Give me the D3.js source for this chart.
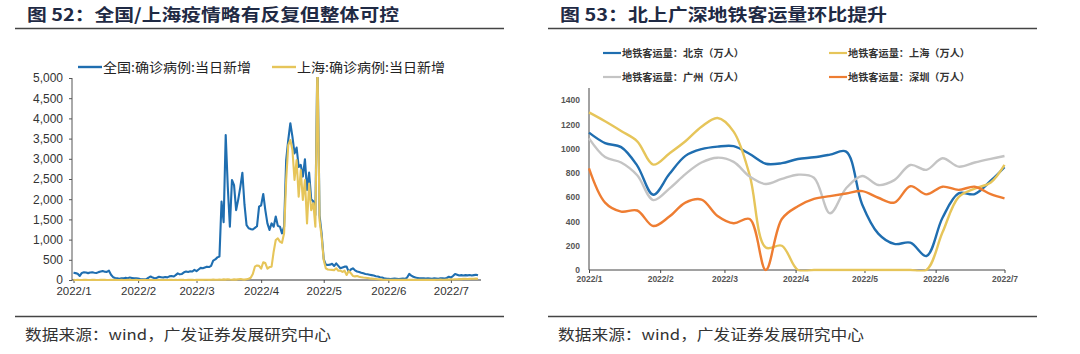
<!DOCTYPE html>
<html>
<head>
<meta charset="utf-8">
<script src="https://cdn.jsdelivr.net/npm/d3@7"></script>
<style>
  body { margin: 0; background: #fff; }
  svg { display: block; font-family: "Liberation Sans", Arial, sans-serif; }
  .cjk { font-family: "Noto Sans CJK SC", "Noto Sans", sans-serif; }
</style>
</head>
<body>
<svg id="chart" width="1080" height="354"></svg>
<script>
// ── Left panel: daily new confirmed cases, starting 2022-01-01 ───────────────
const caseStart = '2022-01-01';
const caseEnd   = '2022-07-14';
const nationalCases = [
  180, 170, 155, 100, 175, 190, 185, 170, 185, 190,
  180, 175, 195, 210, 220, 205, 200, 230, 130, 70,
  50, 40, 30, 45, 40, 55, 45, 60, 50, 40,
  45, 35, 25, 20, 15, 20, 60, 85, 60, 40,
  55, 80, 70, 60, 75, 65, 90, 100, 85, 120,
  165, 140, 150, 190, 210, 200, 215, 210, 250,
  220, 260, 300, 290, 310, 330, 320, 350, 480, 510, 560,
  580, 1940, 1430, 3590, 2300, 1320, 2475, 2350, 1730, 1990,
  2300, 2655, 1870, 1360, 1280, 1260, 1250, 1290, 1330, 1815,
  1850, 2130, 1730, 1400, 1240, 1400, 1320, 1570, 1340, 1320,
  1155, 1320, 2970, 3470, 3880, 3550, 3135, 3280, 2800, 2850,
  2560, 2990, 2230, 2660, 2000, 1950, 1610, 5600, 1600, 1150,
  520, 380, 370, 380, 400, 345, 410, 350, 290, 310,
  330, 330, 200, 260, 290, 240, 210, 200, 180, 165,
  150, 140, 130, 120, 110, 95, 85, 70, 60, 45,
  35, 30, 25, 30, 35, 30, 25, 30, 35, 30,
  60, 150, 110, 80, 60, 50, 40, 45, 40, 35,
  40, 35, 30, 40, 35, 30, 45, 40, 35, 50,
  80, 60, 100, 150, 130, 110, 120, 110, 120, 115,
  125, 110, 120, 130, 115
];
const shanghaiCases = [
  2, 0, 3, 1, 0, 2, 4, 1, 0, 3,
  2, 0, 1, 3, 5, 2, 0, 1, 2, 0,
  3, 1, 0, 2, 1, 0, 4, 2, 1, 0,
  2, 0, 1, 0, 3, 1, 0, 2, 1, 0,
  1, 2, 0, 3, 1, 0, 2, 4, 1, 2,
  0, 3, 5, 2, 1, 4, 3, 2, 1,
  2, 3, 5, 3, 8, 5, 3, 6, 10, 5, 8,
  12, 8, 15, 10, 20, 12, 8, 15, 10, 20,
  25, 15, 10, 20, 30, 55, 150, 330, 360, 350,
  280, 440, 420, 280, 320, 330, 700, 990, 1030, 950,
  920, 1155, 2475, 3340, 3465, 3220, 2475, 2970, 2060, 2720,
  1980, 2475, 1400, 2390, 1730, 1900, 1320, 5487, 1485, 1070,
  495, 290, 260, 255, 250, 245, 290, 230, 235, 200,
  230, 125, 220, 170, 100, 90, 100, 80, 70, 60,
  55, 50, 40, 35, 30, 25, 20, 15, 10, 8,
  5, 6, 4, 5, 3, 4, 2, 3, 5, 4,
  4, 3, 5, 2, 4, 3, 2, 4, 3, 2,
  3, 2, 4, 3, 5, 8, 10, 6, 8, 12,
  10, 15, 12, 20, 18, 25, 22, 28, 30, 25,
  28, 32, 30, 35, 30
];
const caseNames  = ['全国:确诊病例:当日新增', '上海:确诊病例:当日新增'];
const caseTicksY = [0, 500, 1000, 1500, 2000, 2500, 3000, 3500, 4000, 4500, 5000];
const monthTicks = ['2022-01-01', '2022-02-01', '2022-03-01', '2022-04-01', '2022-05-01', '2022-06-01', '2022-07-01'];

// ── Right panel: weekly subway ridership (万人) ───────────────────────────────
const weekDates = [
  '2022-01-01', '2022-01-08', '2022-01-15', '2022-01-22', '2022-01-29', '2022-02-05', '2022-02-12',
  '2022-02-19', '2022-02-26', '2022-03-05', '2022-03-12', '2022-03-19', '2022-03-26', '2022-04-02',
  '2022-04-09', '2022-04-16', '2022-04-23', '2022-04-30', '2022-05-07', '2022-05-14', '2022-05-21',
  '2022-05-28', '2022-06-04', '2022-06-11', '2022-06-18', '2022-06-25', '2022-07-01'
];
const beijing   = [1131, 1045, 1012, 860, 620, 790, 940, 995, 1016, 1020, 955, 875, 880, 914, 928, 950, 975, 540, 300, 215, 225, 115, 430, 631, 625, 735, 846];
const shanghai  = [1298, 1225, 1145, 1060, 868, 960, 1060, 1180, 1252, 1140, 780, 185, 200, 0, 0, 0, 0, 0, 0, 0, 0, 0, 310, 600, 670, 720, 865];
const guangzhou = [1084, 930, 885, 780, 576, 670, 790, 885, 925, 890, 770, 708, 750, 785, 760, 467, 673, 774, 700, 740, 865, 825, 920, 851, 885, 915, 939];
const shenzhen  = [837, 555, 481, 490, 362, 440, 555, 580, 445, 385, 420, 0, 420, 525, 585, 608, 630, 650, 595, 555, 690, 623, 686, 660, 686, 625, 590];
const metroNames = ['地铁客运量：北京（万人）', '地铁客运量：上海（万人）', '地铁客运量：广州（万人）', '地铁客运量：深圳（万人）'];
const metroTicksY = [0, 200, 400, 600, 800, 1000, 1200, 1400];

// ── Colours ───────────────────────────────────────────────────────────────────
const BLUE = '#1f6eb0', GOLD = '#e6c55a', GREY = '#c4c4c4', ORANGE = '#ee7d32';

const parse = d3.timeParse('%Y-%m-%d');
const svg = d3.select('#chart');

// ── Titles, rules and source notes ────────────────────────────────────────────
function frame(x0, x1, tx, title, titleLen, noteX) {
  svg.append('text').attr('class', 'cjk')
    .attr('x', tx).attr('y', 21)
    .attr('font-size', 17).attr('font-weight', 700).attr('fill', '#1f2a44')
    .attr('textLength', titleLen).attr('lengthAdjust', 'spacingAndGlyphs')
    .text(title);
  [28.5, 316.5].forEach(yy => svg.append('line')
    .attr('x1', x0).attr('x2', x1).attr('y1', yy).attr('y2', yy)
    .attr('stroke', '#444').attr('stroke-width', 1.3));
  svg.append('text').attr('class', 'cjk')
    .attr('x', noteX).attr('y', 340)
    .attr('font-size', 14.5).attr('fill', '#333')
    .attr('textLength', 306).attr('lengthAdjust', 'spacingAndGlyphs')
    .text('数据来源：wind，广发证券发展研究中心');
}
frame(15, 504, 27, '图 52：全国/上海疫情略有反复但整体可控', 372, 25);
frame(548, 1037, 560, '图 53：北上广深地铁客运量环比提升', 327, 558);

// ── Left chart ────────────────────────────────────────────────────────────────
{
  const x = d3.scaleTime().domain([parse(caseStart), parse(caseEnd)]).range([73.5, 478]);
  const y = d3.scaleLinear().domain([0, 5000]).range([280, 78]);
  const dates = nationalCases.map((_, i) => d3.timeDay.offset(parse(caseStart), i));

  svg.append('clipPath').attr('id', 'clipL')
    .append('rect').attr('x', 70).attr('y', 77).attr('width', 415).attr('height', 205);

  const yAxis = svg.append('g').attr('transform', 'translate(72,0)')
    .call(d3.axisLeft(y).tickValues(caseTicksY).tickFormat(d3.format(',')).tickSize(3).tickPadding(6));
  yAxis.select('.domain').remove();
  yAxis.selectAll('line').attr('stroke', '#555');
  yAxis.selectAll('text').attr('font-size', 12).attr('fill', '#333')
    .attr('font-family', '"Liberation Sans", Arial, sans-serif');
  svg.append('line').attr('x1', 72).attr('x2', 72).attr('y1', 78).attr('y2', 280)
    .attr('stroke', '#555').attr('stroke-width', 1);

  const xAxis = svg.append('g').attr('transform', 'translate(0,280)')
    .call(d3.axisBottom(x).tickValues(monthTicks.map(parse))
      .tickFormat(d => `2022/${d.getMonth() + 1}`).tickSize(3).tickPadding(4));
  xAxis.select('.domain').remove();
  xAxis.selectAll('line').attr('stroke', '#555');
  xAxis.selectAll('text').attr('font-size', 11.5).attr('fill', '#333')
    .attr('font-family', '"Liberation Sans", Arial, sans-serif');
  svg.append('line').attr('x1', 72).attr('x2', 481).attr('y1', 280).attr('y2', 280)
    .attr('stroke', '#333').attr('stroke-width', 1.2);

  const line = d3.line().x((d, i) => x(dates[i])).y(d => y(d));
  const g = svg.append('g').attr('clip-path', 'url(#clipL)');
  [[nationalCases, BLUE], [shanghaiCases, GOLD]].forEach(([vals, c]) => {
    g.append('path').datum(vals).attr('d', line)
      .attr('fill', 'none').attr('stroke', c).attr('stroke-width', 2.1)
      .attr('stroke-linejoin', 'round');
  });

  // legend
  [[78, BLUE, 148], [272, GOLD, 148]].forEach(([lx, c, len], i) => {
    svg.append('line').attr('x1', lx).attr('x2', lx + 24).attr('y1', 67).attr('y2', 67)
      .attr('stroke', c).attr('stroke-width', 2.4);
    svg.append('text').attr('class', 'cjk')
      .attr('x', lx + 25).attr('y', 71.5).attr('font-size', 13).attr('fill', '#222')
      .attr('textLength', len).attr('lengthAdjust', 'spacingAndGlyphs')
      .text(caseNames[i]);
  });
}

// ── Right chart ───────────────────────────────────────────────────────────────
{
  const x = d3.scaleTime().domain([parse('2022-01-01'), parse('2022-07-01')]).range([589, 1004.5]);
  const y = d3.scaleLinear().domain([0, 1400]).range([270, 100]);
  const dates = weekDates.map(parse);

  svg.append('clipPath').attr('id', 'clipR')
    .append('rect').attr('x', 585).attr('y', 85).attr('width', 430).attr('height', 186.5);

  const yAxis = svg.append('g').attr('transform', 'translate(589,0)')
    .call(d3.axisLeft(y).tickValues(metroTicksY).tickFormat(d3.format('d')).tickSize(0).tickPadding(9));
  yAxis.select('.domain').remove();
  yAxis.selectAll('text').attr('font-size', 8.5).attr('font-weight', 700).attr('fill', '#555');
  svg.append('line').attr('x1', 589).attr('x2', 589).attr('y1', 88).attr('y2', 270)
    .attr('stroke', '#444').attr('stroke-width', 1);

  const xAxis = svg.append('g').attr('transform', 'translate(0,270)')
    .call(d3.axisBottom(x).tickValues(monthTicks.map(parse))
      .tickFormat(d => `2022/${d.getMonth() + 1}`).tickSize(3).tickPadding(3));
  xAxis.select('.domain').remove();
  xAxis.selectAll('line').attr('stroke', '#444');
  xAxis.selectAll('text').attr('font-size', 8.5).attr('font-weight', 700).attr('fill', '#555');
  svg.append('line').attr('x1', 589).attr('x2', 1005).attr('y1', 270).attr('y2', 270)
    .attr('stroke', '#444').attr('stroke-width', 1);

  const line = d3.line().x((d, i) => x(dates[i])).y(d => y(d))
    .curve(d3.curveCatmullRom.alpha(0.5));
  const series = [[beijing, BLUE], [shanghai, GOLD], [guangzhou, GREY], [shenzhen, ORANGE]];
  const g = svg.append('g').attr('clip-path', 'url(#clipR)');
  series.forEach(([vals, c]) => {
    g.append('path').datum(vals).attr('d', line)
      .attr('fill', 'none').attr('stroke', c).attr('stroke-width', 2.4);
  });

  // legend: 2 x 2
  const pos = [[603, 53], [829, 53], [603, 77], [829, 77]];
  series.forEach(([, c], i) => {
    const [lx, ly] = pos[i];
    svg.append('line').attr('x1', lx).attr('x2', lx + 18).attr('y1', ly).attr('y2', ly)
      .attr('stroke', c).attr('stroke-width', 2.2);
    svg.append('text').attr('class', 'cjk')
      .attr('x', lx + 19).attr('y', ly + 3.5).attr('font-size', 10).attr('font-weight', 700)
      .attr('fill', '#333')
      .attr('textLength', 122).attr('lengthAdjust', 'spacingAndGlyphs')
      .text(metroNames[i]);
  });
}
</script>
</body>
</html>
